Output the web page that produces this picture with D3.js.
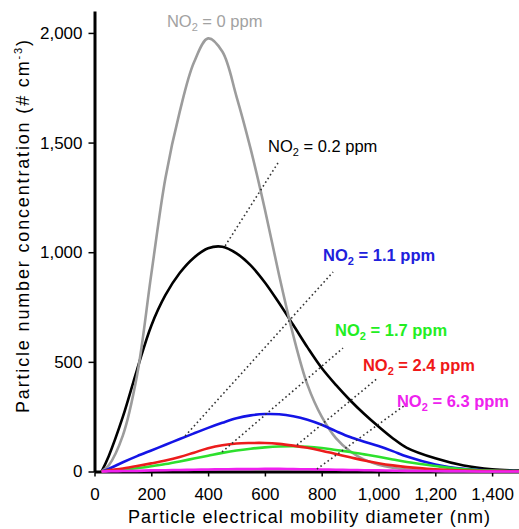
<!DOCTYPE html>
<html>
<head>
<meta charset="utf-8">
<script src="https://cdn.jsdelivr.net/npm/d3@7"></script>
<style>
  html, body { margin: 0; padding: 0; background: #fff; }
  svg { display: block; font-family: Arial, "Liberation Sans", sans-serif; }
</style>
</head>
<body>
<svg id="chart" width="519" height="529"></svg>
<script>
// ── Data ──
const diameters = [25, 50, 100, 150, 200, 250, 300, 350, 400, 450, 500, 550, 600, 650, 700,
  750, 800, 850, 900, 950, 1000, 1050, 1100, 1200, 1300, 1400, 1500];

const no2_0   = [0, 28, 165, 440, 900, 1340, 1640, 1865, 1975, 1915, 1710, 1470, 1195, 895, 620,
  395, 250, 152, 92, 54, 31, 17, 9, 3, 1, 0, 0];
const no2_0_2 = [0, 70, 250, 465, 665, 805, 905, 975, 1018, 1025, 995, 940, 862, 768, 668,
  566, 472, 395, 325, 262, 205, 152, 108, 60, 27, 10, 4];
const no2_1_1 = [0, 12, 42, 70, 96, 122, 148, 174, 199, 222, 243, 256, 262, 261, 252,
  236, 213, 184, 157, 136, 116, 93, 68, 32, 12, 4, 1];
const no2_1_7 = [0, 3, 8, 15, 24, 34, 46, 59, 72, 85, 96, 104, 110, 114, 115,
  113, 107, 98, 89, 78, 67, 55, 43, 25, 10, 4, 1];
const no2_2_4 = [0, 5, 14, 25, 37, 50, 66, 86, 106, 120, 128, 130, 130, 126, 118,
  108, 95, 80, 65, 50, 38, 28, 20, 10, 4, 2, 1];
const no2_6_3 = [0, 1, 2, 3, 5, 6, 7, 8, 9, 10, 11, 11, 12, 12, 11,
  10, 9, 8, 7, 6, 5, 4, 3, 2, 1, 0, 0];

const seriesNames = ["0", "0.2", "1.1", "1.7", "2.4", "6.3"];
const seriesValues = [no2_0, no2_0_2, no2_1_1, no2_1_7, no2_2_4, no2_6_3];

const xTicks = [0, 200, 400, 600, 800, 1000, 1200, 1400];
const yTicks = [0, 500, 1000, 1500, 2000];

// ── Layout / styling ──
const W = 519, H = 529;
const margin = { top: 11, right: -1.5, bottom: 57.5, left: 94.5 };

const colors = {
  "0": "#9c9c9c", "0.2": "#000000", "1.1": "#1414e6",
  "1.7": "#2de02d", "2.4": "#ec1c1c", "6.3": "#f020f0"
};
const labelColors = {
  "0": "#a2a2a2", "0.2": "#000000", "1.1": "#2020dc",
  "1.7": "#22ee22", "2.4": "#f01818", "6.3": "#ee22ee"
};

// label anchor and leader line, in data units (nm, # cm-3)
const annotations = [
  { name: "0",   at: [255, 2028], bold: false, leader: null },
  { name: "0.2", at: [611, 1458], bold: false, leader: [[460, 1029], [646, 1407]] },
  { name: "1.1", at: [805, 960],  bold: true,  leader: [[319, 162], [840, 910]] },
  { name: "1.7", at: [847, 618],  bold: true,  leader: [[449, 89], [875, 563]] },
  { name: "2.4", at: [945, 458],  bold: true,  leader: [[713, 121], [998, 427]] },
  { name: "6.3", at: [1065, 294], bold: true,  leader: [[783, 11], [1104, 313]] }
];

const svg = d3.select("#chart");

const x = d3.scaleLinear().domain([0, 1500]).range([margin.left, W - margin.right]);
const y = d3.scaleLinear().domain([0, 2100]).range([H - margin.bottom, margin.top]);

// ── Axes ──
const xAxis = svg.append("g")
  .attr("transform", `translate(0,${y(0)})`)
  .call(d3.axisBottom(x).tickValues(xTicks).tickFormat(d3.format(","))
    .tickSize(5).tickSizeOuter(0).tickPadding(11));

const yAxis = svg.append("g")
  .attr("transform", `translate(${x(0)},0)`)
  .call(d3.axisLeft(y).tickValues(yTicks).tickFormat(d3.format(","))
    .tickSize(6).tickSizeOuter(0).tickPadding(6));

[xAxis, yAxis].forEach((ax) => {
  ax.select(".domain").attr("stroke", "#000").attr("stroke-width", 3);
  ax.selectAll(".tick line").attr("stroke", "#000").attr("stroke-width", 1.5);
  ax.selectAll(".tick text")
    .attr("fill", "#000")
    .style("font-size", "17px")
    .style("font-family", 'Arial, "Liberation Sans", sans-serif');
});

// axis titles
svg.append("text")
  .attr("x", 128)
  .attr("y", 523)
  .attr("textLength", 362)
  .attr("lengthAdjust", "spacing")
  .style("font-size", "18px")
  .text("Particle electrical mobility diameter (nm)");

const yTitle = svg.append("text")
  .attr("transform", "translate(29,413) rotate(-90)")
  .attr("textLength", 373)
  .attr("lengthAdjust", "spacing")
  .style("font-size", "18px");
yTitle.append("tspan").text("Particle number concentration (# cm");
yTitle.append("tspan").attr("dy", -7).style("font-size", "11px").text("-3");
yTitle.append("tspan").attr("dy", 7).text(")");

// ── Curves ──
const line = d3.line()
  .x((d) => x(d[0]))
  .y((d) => y(Math.max(0, d[1])))
  .curve(d3.curveCatmullRom.alpha(0.5));

const drawOrder = ["0.2", "0", "1.1", "1.7", "2.4", "6.3"];
drawOrder.forEach((name) => {
  const vals = seriesValues[seriesNames.indexOf(name)];
  const pts = diameters.map((d, i) => [d, vals[i]]);
  svg.append("path")
    .datum(pts)
    .attr("fill", "none")
    .attr("stroke", colors[name])
    .attr("stroke-width", 2.6)
    .attr("stroke-linejoin", "round")
    .attr("d", line);
});

// ── Leader lines and labels ──
annotations.forEach((a) => {
  if (a.leader) {
    svg.append("line")
      .attr("x1", x(a.leader[0][0])).attr("y1", y(a.leader[0][1]))
      .attr("x2", x(a.leader[1][0])).attr("y2", y(a.leader[1][1]))
      .attr("stroke", "#333")
      .attr("stroke-width", 1.6)
      .attr("stroke-dasharray", "1.6,2.8");
  }
  const t = svg.append("text")
    .attr("x", x(a.at[0]))
    .attr("y", y(a.at[1]))
    .attr("fill", labelColors[a.name])
    .style("font-size", "16.5px")
    .style("font-weight", a.bold ? "bold" : "normal");
  t.append("tspan").text("NO");
  t.append("tspan").attr("dy", 4).style("font-size", "11px").text("2");
  t.append("tspan").attr("dy", -4).text(` = ${a.name} ppm`);
});
</script>
</body>
</html>
